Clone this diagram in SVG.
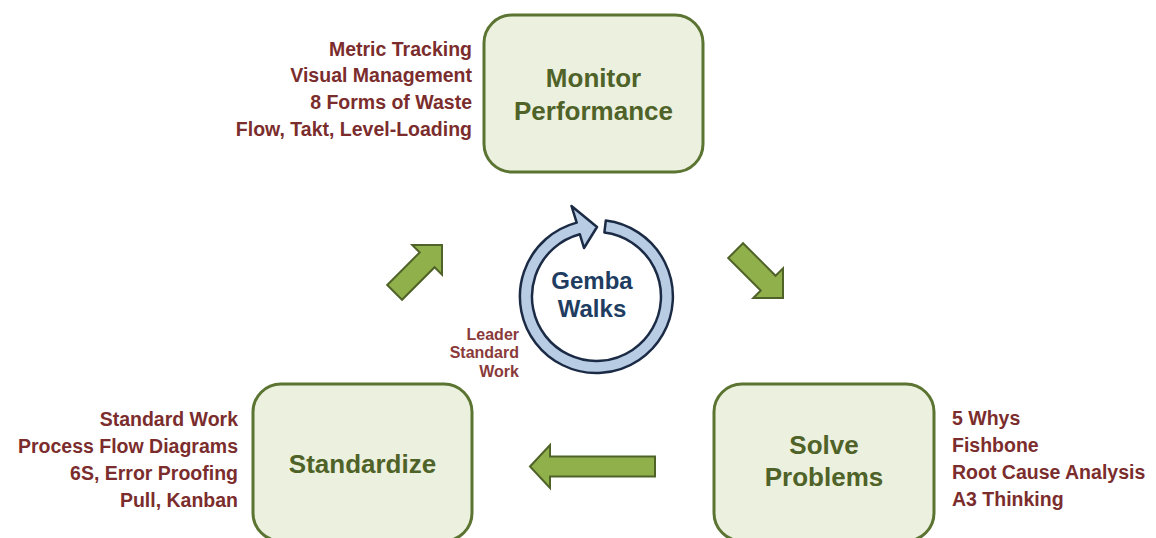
<svg xmlns="http://www.w3.org/2000/svg" width="1156" height="538" viewBox="0 0 1156 538">
  <defs>
    <style>
      .box { fill: #ebf1de; stroke: #5b7431; stroke-width: 3; }
      .title { font-family: "Liberation Sans", Arial, sans-serif; font-weight: bold; font-size: 26px; fill: #4f6228; text-anchor: middle; }
      .list { font-family: "Liberation Sans", Arial, sans-serif; font-weight: bold; font-size: 19.5px; fill: #7b2d2d; }
      .right { text-anchor: end; }
      .small { font-family: "Liberation Sans", Arial, sans-serif; font-weight: bold; font-size: 16px; fill: #8a3a3a; text-anchor: end; }
      .flow { fill: #8fb04a; stroke: #4f6228; stroke-width: 2; stroke-linejoin: miter; }
      .ring { fill: #b8cce4; stroke: #1c2b45; stroke-width: 2.5; stroke-linejoin: round; }
      .center-label { font-family: "Liberation Sans", Arial, sans-serif; font-weight: bold; font-size: 24px; fill: #203c60; text-anchor: middle; }
    </style>
    <!-- block arrow pointing along +x, tip at the origin -->
    <polygon id="block-arrow" points="0,0 -21,-21 -21,-10.5 -67,-10.5 -67,10.5 -21,10.5 -21,21"/>
  </defs>

  <rect width="1156" height="538" fill="#ffffff"/>

  <!-- cycle connectors -->
  <g id="connectors">
    <use href="#block-arrow" class="flow" transform="translate(442,245) rotate(-45)"/>
    <use href="#block-arrow" class="flow" transform="translate(783,298) rotate(45)"/>
    <polygon class="flow" points="530,466.5 550,445 550,456.5 655,456.5 655,476.5 550,476.5 550,488"/>
  </g>

  <g id="monitor-performance">
    <rect class="box" x="484" y="15" width="219" height="157" rx="28" ry="28"/>
    <text class="title" x="593.5" y="87">Monitor</text>
    <text class="title" x="593.5" y="120">Performance</text>
    <text class="list right" x="472" y="56">Metric Tracking</text>
    <text class="list right" x="472" y="82">Visual Management</text>
    <text class="list right" x="472" y="109">8 Forms of Waste</text>
    <text class="list right" x="472" y="136">Flow, Takt, Level-Loading</text>
  </g>

  <g id="gemba-walks">
    <!-- open ring running clockwise, ending in an arrowhead at the top -->
    <path class="ring" d="M605.8,220.6 A76.5,76.5 0 1 1 576.7,222.6 L571.5,206 L597,227 L584,248 L579.8,234.2 A64.5,64.5 0 1 0 604.4,232.5 Z"/>
    <text class="center-label" x="592" y="289">Gemba</text>
    <text class="center-label" x="592" y="317">Walks</text>
    <text class="small" x="519" y="340">Leader</text>
    <text class="small" x="519" y="358">Standard</text>
    <text class="small" x="519" y="377">Work</text>
  </g>

  <g id="solve-problems">
    <rect class="box" x="714" y="384" width="220" height="157" rx="28" ry="28"/>
    <text class="title" x="824" y="454">Solve</text>
    <text class="title" x="824" y="486">Problems</text>
    <text class="list" x="952" y="425">5 Whys</text>
    <text class="list" x="952" y="452">Fishbone</text>
    <text class="list" x="952" y="479">Root Cause Analysis</text>
    <text class="list" x="952" y="506">A3 Thinking</text>
  </g>

  <g id="standardize">
    <rect class="box" x="253" y="384" width="219" height="157" rx="28" ry="28"/>
    <text class="title" x="362.5" y="473">Standardize</text>
    <text class="list right" x="238" y="426">Standard Work</text>
    <text class="list right" x="238" y="453">Process Flow Diagrams</text>
    <text class="list right" x="238" y="480">6S, Error Proofing</text>
    <text class="list right" x="238" y="507">Pull, Kanban</text>
  </g>
</svg>
